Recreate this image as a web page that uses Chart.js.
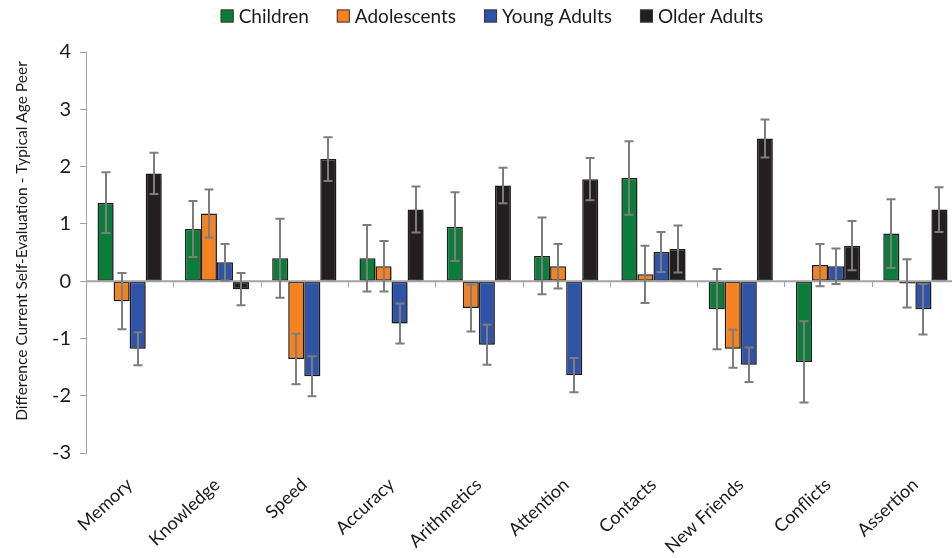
<!DOCTYPE html>
<html>
<head>
<meta charset="utf-8">
<script src="https://cdn.jsdelivr.net/npm/chart.js@4.4.1/dist/chart.umd.min.js"></script>
<style>
  html, body { margin: 0; padding: 0; background: #ffffff; overflow: hidden; }
  #wrap { width: 962px; height: 558px; position: relative; }
</style>
</head>
<body>
<div id="wrap"><canvas id="chart"></canvas></div>
<script>
// Self-evaluation differences versus a typical age peer, by domain and age group
const categories = ['Memory', 'Knowledge', 'Speed', 'Accuracy', 'Arithmetics',
                    'Attention', 'Contacts', 'New Friends', 'Conflicts', 'Assertion'];

const groupNames = ['Children', 'Adolescents', 'Young Adults', 'Older Adults'];

const children       = [1.37, 0.91, 0.40, 0.40, 0.95, 0.44, 1.80, -0.49, -1.41, 0.83];
const childrenErr    = [0.53, 0.49, 0.69, 0.58, 0.60, 0.67, 0.64, 0.70, 0.71, 0.60];

const adolescents    = [-0.35, 1.18, -1.36, 0.26, -0.47, 0.26, 0.12, -1.18, 0.28, -0.04];
const adolescentsErr = [0.49, 0.42, 0.44, 0.44, 0.41, 0.39, 0.50, 0.33, 0.37, 0.42];

const youngAdults    = [-1.18, 0.33, -1.66, -0.74, -1.11, -1.64, 0.51, -1.46, 0.26, -0.49];
const youngAdultsErr = [0.29, 0.32, 0.35, 0.35, 0.35, 0.30, 0.35, 0.30, 0.31, 0.44];

const olderAdults    = [1.88, -0.14, 2.13, 1.25, 1.67, 1.78, 0.56, 2.49, 0.62, 1.25];
const olderAdultsErr = [0.36, 0.28, 0.38, 0.40, 0.31, 0.37, 0.41, 0.33, 0.43, 0.39];

const yTickValues = [-3, -2, -1, 0, 1, 2, 3, 4];
const yTitle = 'Difference Current Self-Evaluation - Typical Age Peer';

const fills = ['#0b7d3b', '#f58220', '#2f53a6', '#231f20'];
const seriesValues = [children, adolescents, youngAdults, olderAdults];
const seriesErrors = [childrenErr, adolescentsErr, youngAdultsErr, olderAdultsErr];

const FONT = 'Lato, "Open Sans", "DejaVu Sans", sans-serif';
const AXIS_GRAY = '#a3a3a3';

// Drop shadow under the bars
const barShadow = {
  id: 'barShadow',
  beforeDatasetsDraw(chart) {
    const ctx = chart.ctx;
    ctx.save();
    ctx.shadowColor = 'rgba(0,0,0,0.28)';
    ctx.shadowBlur = 4;
    ctx.shadowOffsetX = 2;
    ctx.shadowOffsetY = 2;
  },
  afterDatasetsDraw(chart) {
    chart.ctx.restore();
  }
};

// Zero line with short category ticks, then error whiskers on top of the bars
const overlays = {
  id: 'overlays',
  afterDatasetsDraw(chart) {
    const ctx = chart.ctx;
    const xs = chart.scales.x, ys = chart.scales.y;
    const area = chart.chartArea;
    const y0 = ys.getPixelForValue(0);

    ctx.save();
    ctx.strokeStyle = AXIS_GRAY;
    ctx.lineWidth = 2;
    ctx.beginPath();
    ctx.moveTo(area.left, y0);
    ctx.lineTo(area.right, y0);
    ctx.stroke();

    ctx.lineWidth = 1;
    const half = (xs.getPixelForValue(1) - xs.getPixelForValue(0)) / 2;
    ctx.beginPath();
    for (let i = 0; i < categories.length; i++) {
      const bx = Math.round(xs.getPixelForValue(i) + half) + 0.5;
      ctx.moveTo(bx, y0);
      ctx.lineTo(bx, y0 + 6);
    }
    ctx.stroke();

    ctx.strokeStyle = '#7d7d7d';
    ctx.lineWidth = 2;
    chart.data.datasets.forEach((ds, di) => {
      const meta = chart.getDatasetMeta(di);
      meta.data.forEach((bar, i) => {
        const v = ds.data[i];
        const e = seriesErrors[di][i];
        const top = ys.getPixelForValue(v + e);
        const bot = ys.getPixelForValue(v - e);
        const x = Math.round(bar.x);
        ctx.beginPath();
        ctx.moveTo(x, top);
        ctx.lineTo(x, bot);
        ctx.moveTo(x - 4.5, top);
        ctx.lineTo(x + 4.5, top);
        ctx.moveTo(x - 4.5, bot);
        ctx.lineTo(x + 4.5, bot);
        ctx.stroke();
      });
    });
    ctx.restore();
  }
};

// Legend row across the top
const topLegend = {
  id: 'topLegend',
  afterDraw(chart) {
    const ctx = chart.ctx;
    ctx.save();
    ctx.font = '19px ' + FONT;
    ctx.textBaseline = 'middle';
    ctx.textAlign = 'left';
    const box = 13, gapText = 5, gapItem = 28;
    const widths = groupNames.map(n => ctx.measureText(n).width);
    let total = 0;
    widths.forEach((w, i) => { total += box + gapText + w + (i < widths.length - 1 ? gapItem : 0); });
    let x = 492 - total / 2;
    const cy = 16;
    groupNames.forEach((name, i) => {
      ctx.fillStyle = fills[i];
      ctx.fillRect(x, cy - box / 2, box, box);
      ctx.strokeStyle = '#3a3a3a';
      ctx.lineWidth = 1;
      ctx.strokeRect(x + 0.5, cy - box / 2 + 0.5, box - 1, box - 1);
      ctx.fillStyle = '#1a1a1a';
      ctx.fillText(name, x + box + gapText, cy + 1);
      x += box + gapText + widths[i] + gapItem;
    });
    ctx.restore();
  }
};

// Vertical axis title, centred a little above the middle of the plot
const axisTitle = {
  id: 'axisTitle',
  afterDraw(chart) {
    const ctx = chart.ctx;
    ctx.save();
    ctx.translate(22, 241);
    ctx.rotate(-Math.PI / 2);
    ctx.font = '15.5px ' + FONT;
    ctx.fillStyle = '#1a1a1a';
    ctx.textAlign = 'center';
    ctx.textBaseline = 'middle';
    ctx.fillText(yTitle, 0, 0);
    ctx.restore();
  }
};

const chart = new Chart(document.getElementById('chart'), {
  type: 'bar',
  data: {
    labels: categories,
    datasets: groupNames.map((name, i) => ({
      label: name,
      data: seriesValues[i],
      backgroundColor: fills[i],
      borderColor: '#231f20',
      borderWidth: 1.5,
      borderSkipped: false,
      barPercentage: 1.0,
      categoryPercentage: 0.735
    }))
  },
  options: {
    responsive: true,
    maintainAspectRatio: false,
    devicePixelRatio: 1,
    animation: false,
    layout: { padding: { top: 52, right: 3, left: 0, bottom: 0 } },
    plugins: {
      legend: { display: false },
      tooltip: { enabled: false }
    },
    scales: {
      x: {
        grid: { display: false },
        border: { display: false },
        ticks: {
          color: '#1a1a1a',
          font: { family: FONT, size: 18 },
          minRotation: 43,
          maxRotation: 43,
          autoSkip: false,
          padding: 13
        },
        afterFit(scale) { scale.height = 105; }
      },
      y: {
        min: -3,
        max: 4,
        afterBuildTicks(scale) { scale.ticks = yTickValues.map(v => ({ value: v })); },
        grid: {
          drawOnChartArea: false,
          tickLength: 6,
          tickColor: AXIS_GRAY,
          color: AXIS_GRAY
        },
        border: { display: true, color: AXIS_GRAY, width: 1 },
        ticks: {
          color: '#1a1a1a',
          font: { family: FONT, size: 20 },
          padding: 9
        },
        afterFit(scale) { scale.width = 86; }
      }
    }
  },
  plugins: [barShadow, overlays, topLegend, axisTitle]
});
</script>
</body>
</html>
